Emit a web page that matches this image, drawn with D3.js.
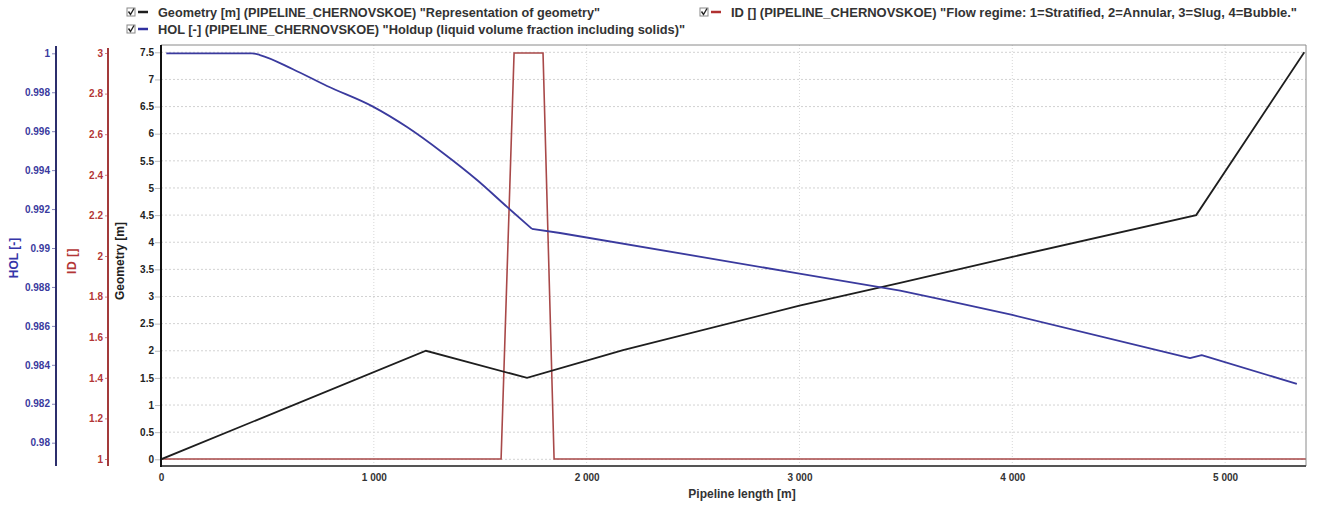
<!DOCTYPE html>
<html><head><meta charset="utf-8">
<script src="https://cdn.jsdelivr.net/npm/d3@7"></script>
<style>
body{margin:0;background:#fff;}
svg text{font-family:"Liberation Sans",Arial,sans-serif;font-weight:bold;}
</style></head><body>
<svg id="c" width="1319" height="506"></svg>
<script>
// ---- data ----
const xTickValues = [0, 1000, 2000, 3000, 4000, 5000];
const xTickLabels = ["0", "1 000", "2 000", "3 000", "4 000", "5 000"];
const geomTickValues = [0, 0.5, 1, 1.5, 2, 2.5, 3, 3.5, 4, 4.5, 5, 5.5, 6, 6.5, 7, 7.5];
const geomTickLabels = ["0", "0.5", "1", "1.5", "2", "2.5", "3", "3.5", "4", "4.5", "5", "5.5", "6", "6.5", "7", "7.5"];
const holTickValues = [0.98, 0.982, 0.984, 0.986, 0.988, 0.99, 0.992, 0.994, 0.996, 0.998, 1];
const holTickLabels = ["0.98", "0.982", "0.984", "0.986", "0.988", "0.99", "0.992", "0.994", "0.996", "0.998", "1"];
const idTickValues = [1, 1.2, 1.4, 1.6, 1.8, 2, 2.2, 2.4, 2.6, 2.8, 3];
const idTickLabels = ["1", "1.2", "1.4", "1.6", "1.8", "2", "2.2", "2.4", "2.6", "2.8", "3"];

const geomX = [0, 1245, 1720, 2171, 3000, 3473, 4000, 4864, 5372];
const geomY = [0, 2.0, 1.5, 2.01, 2.83, 3.25, 3.73, 4.5, 7.5];

// holdup: curved upstream part, then piecewise-linear part
const holX = [25, 428, 465, 620, 780, 996, 1156, 1325, 1485, 1626, 1743, 1875, 2993, 3473, 3661, 4000, 4835, 4890, 5337];
const holY = [1.0, 1.0, 0.99991, 0.99918, 0.99832, 0.99726, 0.99621, 0.99488, 0.99349, 0.99211, 0.99098, 0.99077, 0.98870, 0.98781, 0.98738, 0.98656, 0.98435, 0.98450, 0.98302];
const holCurvedEnd = 10; // index where the smooth part ends

const idX = [0, 1598, 1659, 1795, 1847, 5380];
const idY = [1, 1, 3, 3, 1, 1];

const legendTexts = [
  'Geometry [m] (PIPELINE_CHERNOVSKOE) "Representation of geometry"',
  'HOL [-] (PIPELINE_CHERNOVSKOE) "Holdup (liquid volume fraction including solids)"',
  'ID [] (PIPELINE_CHERNOVSKOE) "Flow regime: 1=Stratified, 2=Annular, 3=Slug, 4=Bubble."'
];

// ---- layout ----
const L = 161, R = 1306, T = 45, B = 466;
const cGeom = "#1e1e1e", cHol = "#3a3a9e", cHolAxis = "#2c2e6c", cId = "#a84848", cIdText = "#b33636";

const svg = d3.select("#c");
const x = d3.scaleLinear().domain([0, 5380]).range([L, R]);
const yG = d3.scaleLinear().domain([0, 7.5]).range([459.3, 52.3]);
const yH = d3.scaleLinear().domain([0.98, 1]).range([442.7, 53.3]);
const yI = d3.scaleLinear().domain([1, 3]).range([459, 53]);

// grid
const grid = svg.append("g");
grid.selectAll("line.h").data(geomTickValues).join("line")
  .attr("x1", L).attr("x2", R).attr("y1", d => yG(d)).attr("y2", d => yG(d))
  .attr("stroke", "#d2d2d2").attr("stroke-dasharray", "2,2");
grid.selectAll("line.v").data(xTickValues.slice(1)).join("line")
  .attr("y1", T).attr("y2", B).attr("x1", d => x(d)).attr("x2", d => x(d))
  .attr("stroke", "#d8d8d8").attr("stroke-dasharray", "1,2");

// clip
svg.append("clipPath").attr("id", "pc").append("rect")
  .attr("x", L).attr("y", T).attr("width", R - L).attr("height", B - T);
const plot = svg.append("g").attr("clip-path", "url(#pc)");

const idLine = d3.line().x(d => x(d[0])).y(d => yI(d[1]));
plot.append("path").datum(idX.map((v, i) => [v, idY[i]]))
  .attr("d", idLine).attr("fill", "none").attr("stroke", cId).attr("stroke-width", 1.6);

const gLine = d3.line().x(d => x(d[0])).y(d => yG(d[1]));
plot.append("path").datum(geomX.map((v, i) => [v, geomY[i]]))
  .attr("d", gLine).attr("fill", "none").attr("stroke", cGeom).attr("stroke-width", 1.8);

const holPts = holX.map((v, i) => [v, holY[i]]);
const hCurve = d3.line().x(d => x(d[0])).y(d => yH(d[1])).curve(d3.curveMonotoneX);
const hLin = d3.line().x(d => x(d[0])).y(d => yH(d[1]));
plot.append("path").datum(holPts.slice(0, holCurvedEnd + 1))
  .attr("d", hCurve).attr("fill", "none").attr("stroke", cHol).attr("stroke-width", 1.8).attr("stroke-linejoin", "round");
plot.append("path").datum(holPts.slice(holCurvedEnd))
  .attr("d", hLin).attr("fill", "none").attr("stroke", cHol).attr("stroke-width", 1.8).attr("stroke-linejoin", "round");

// plot frame
svg.append("line").attr("x1", L).attr("x2", R).attr("y1", T).attr("y2", T).attr("stroke", "#8a8a8a");
svg.append("line").attr("x1", R).attr("x2", R).attr("y1", T).attr("y2", B).attr("stroke", "#8a8a8a");
svg.append("line").attr("x1", L).attr("x2", R).attr("y1", B).attr("y2", B).attr("stroke", "#555").attr("stroke-width", 2);
svg.append("line").attr("x1", L).attr("x2", L).attr("y1", T).attr("y2", B + 1).attr("stroke", "#111").attr("stroke-width", 2);

// geometry axis
const gAx = svg.append("g").attr("transform", `translate(${L - 1},0)`)
  .call(d3.axisLeft(yG).tickValues(geomTickValues).tickFormat((d, i) => geomTickLabels[i]).tickSize(5).tickPadding(1));
gAx.select(".domain").remove();
gAx.selectAll(".tick line").attr("stroke", "#bbb");
gAx.selectAll("text").attr("fill", "#222").style("font-size", "10px");

// ID axis
const iX = 108;
const iAx = svg.append("g").attr("transform", `translate(${iX},0)`)
  .call(d3.axisLeft(yI).tickValues(idTickValues).tickFormat((d, i) => idTickLabels[i]).tickSize(3).tickPadding(2));
iAx.select(".domain").remove();
iAx.selectAll(".tick line").attr("stroke", "#d08080");
iAx.selectAll("text").attr("fill", cIdText).style("font-size", "10px");
svg.append("line").attr("x1", iX).attr("x2", iX).attr("y1", T + 3).attr("y2", B).attr("stroke", "#a33a3a").attr("stroke-width", 2);

// HOL axis
const hX = 56;
const hAx = svg.append("g").attr("transform", `translate(${hX},0)`)
  .call(d3.axisLeft(yH).tickValues(holTickValues).tickFormat((d, i) => holTickLabels[i]).tickSize(4).tickPadding(2));
hAx.select(".domain").remove();
hAx.selectAll(".tick line").attr("stroke", "#8888bb");
hAx.selectAll("text").attr("fill", cHol).style("font-size", "10px");
svg.append("line").attr("x1", hX).attr("x2", hX).attr("y1", T + 1).attr("y2", B).attr("stroke", cHolAxis).attr("stroke-width", 2);

// x axis
const xAx = svg.append("g").attr("transform", `translate(0,${B})`)
  .call(d3.axisBottom(x).tickValues(xTickValues).tickFormat((d, i) => xTickLabels[i]).tickSize(0).tickPadding(8));
xAx.select(".domain").remove();
xAx.selectAll("text").attr("fill", "#333").style("font-size", "10px");

// axis titles
svg.append("text").attr("x", 742).attr("y", 498).attr("text-anchor", "middle")
  .style("font-size", "12px").attr("fill", "#333").text("Pipeline length [m]");
svg.append("text").attr("transform", "translate(18,258) rotate(-90)").attr("text-anchor", "middle")
  .style("font-size", "12px").attr("fill", "#3535a8").text("HOL [-]");
svg.append("text").attr("transform", "translate(76,261) rotate(-90)").attr("text-anchor", "middle")
  .style("font-size", "12px").attr("fill", cIdText).attr("letter-spacing", "0.5").text("ID []");
svg.append("text").attr("transform", "translate(124,261) rotate(-90)").attr("text-anchor", "middle")
  .style("font-size", "12px").attr("fill", "#222").text("Geometry [m]");

// legend
const legendItems = [
  {x: 127, y: 12, color: cGeom, text: legendTexts[0], len: 442},
  {x: 127, y: 29, color: "#3030a0", text: legendTexts[1], len: 527},
  {x: 700, y: 12, color: "#b03030", text: legendTexts[2], len: 566}
];
const lg = svg.append("g");
legendItems.forEach(it => {
  const g = lg.append("g").attr("transform", `translate(${it.x},${it.y})`);
  g.append("rect").attr("x", 0).attr("y", -4).attr("width", 8).attr("height", 8)
    .attr("fill", "#fff").attr("stroke", "#888").attr("stroke-width", 1);
  g.append("path").attr("d", "M1.5,-0.5 L3.5,2.5 L7,-3.5").attr("fill", "none").attr("stroke", "#222").attr("stroke-width", 1.4);
  g.append("line").attr("x1", 11).attr("x2", 21).attr("y1", 0).attr("y2", 0)
    .attr("stroke", it.color).attr("stroke-width", 2.5);
  g.append("text").attr("x", 31).attr("y", 4.5).style("font-size", "12px").attr("fill", "#333")
    .attr("textLength", it.len).attr("lengthAdjust", "spacingAndGlyphs").text(it.text);
});
</script>
</body></html>
